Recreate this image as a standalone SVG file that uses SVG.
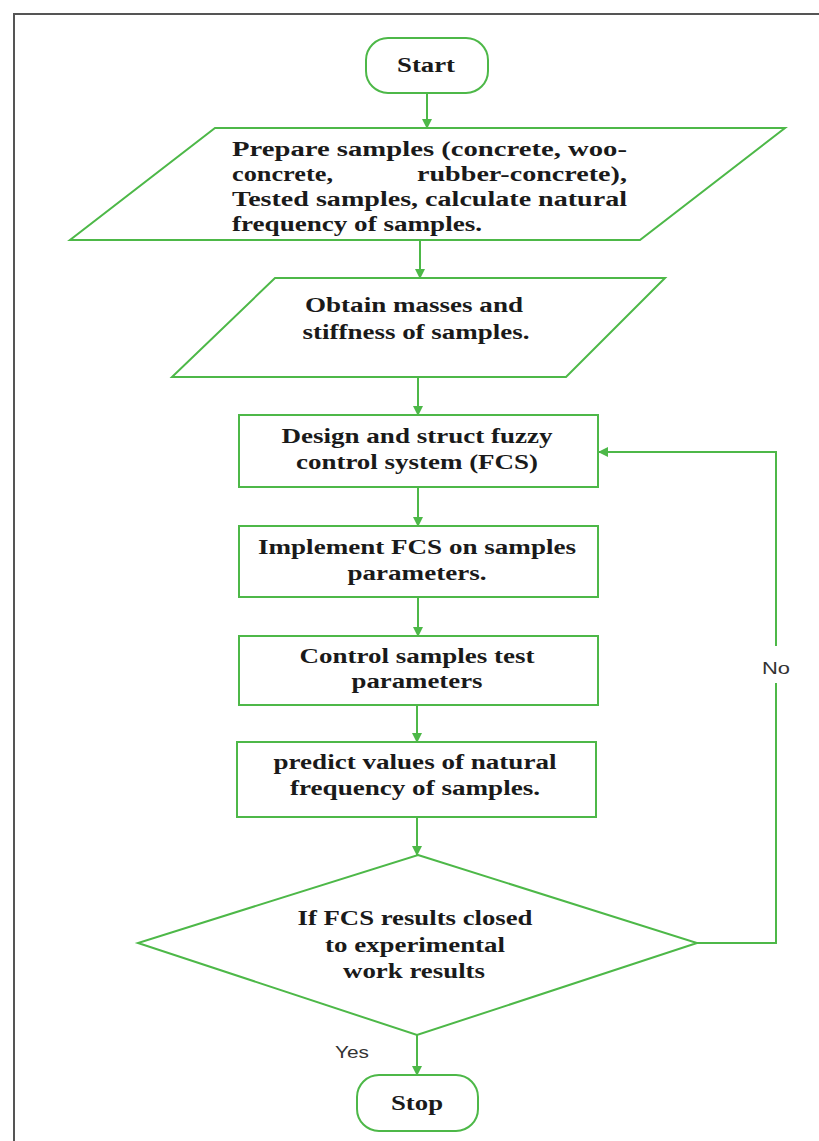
<svg xmlns="http://www.w3.org/2000/svg" width="819" height="1141" viewBox="0 0 819 1141">
<defs>
<marker id="ah" markerWidth="10" markerHeight="10" refX="9" refY="5" orient="auto" markerUnits="userSpaceOnUse">
<path d="M0,0 L10,5 L0,10 Z" fill="#4db848"/>
</marker>
<style>
.shape{fill:#ffffff;stroke:#4db848;stroke-width:2}
.t{font-family:"Liberation Serif","Times New Roman",serif;font-weight:bold;font-size:20px;fill:#1a1a1a;text-anchor:middle}
.tl{font-family:"Liberation Serif","Times New Roman",serif;font-weight:bold;font-size:20px;fill:#1a1a1a}
.lbl{font-family:"Liberation Sans",Arial,sans-serif;font-size:16px;fill:#333333;text-anchor:middle}
.c{fill:none;stroke:#4db848;stroke-width:2}
</style>
</defs>
<rect width="819" height="1141" fill="#ffffff"/>
<rect x="14" y="14" width="820" height="1140" fill="none" stroke="#555555" stroke-width="2"/>

<g id="connectors">
<line class="c" x1="427" y1="93" x2="427" y2="128" marker-end="url(#ah)"/>
<line class="c" x1="420" y1="240" x2="420" y2="278" marker-end="url(#ah)"/>
<line class="c" x1="418" y1="377" x2="418" y2="415" marker-end="url(#ah)"/>
<line class="c" x1="418" y1="487" x2="418" y2="526" marker-end="url(#ah)"/>
<line class="c" x1="418" y1="597" x2="418" y2="636" marker-end="url(#ah)"/>
<line class="c" x1="417" y1="705" x2="417" y2="742" marker-end="url(#ah)"/>
<line class="c" x1="417" y1="817" x2="417" y2="855" marker-end="url(#ah)"/>
<line class="c" x1="417" y1="1035" x2="417" y2="1075" marker-end="url(#ah)"/>
<polyline class="c" points="697,943 776,943 776,683"/>
<polyline class="c" points="776,646 776,452 599,452" marker-end="url(#ah)"/>
<text class="lbl" x="776" y="674" textLength="28" lengthAdjust="spacingAndGlyphs">No</text>
<text class="lbl" x="352" y="1058" textLength="34" lengthAdjust="spacingAndGlyphs">Yes</text>
</g>

<g id="start">
<rect class="shape" x="366" y="38" width="122" height="55" rx="22"/>
<text class="t" x="426" y="72" textLength="58" lengthAdjust="spacingAndGlyphs">Start</text>
</g>

<g id="prepare">
<polygon class="shape" points="215,128 785,128 640,240 70,240"/>
<text class="tl" x="232" y="156" textLength="395" lengthAdjust="spacingAndGlyphs">Prepare samples (concrete, woo-</text>
<text class="tl" x="232" y="181" textLength="101" lengthAdjust="spacingAndGlyphs">concrete,</text>
<text class="tl" x="417" y="181" textLength="210" lengthAdjust="spacingAndGlyphs">rubber-concrete),</text>
<text class="tl" x="232" y="206" textLength="395" lengthAdjust="spacingAndGlyphs">Tested samples, calculate natural</text>
<text class="tl" x="232" y="231" textLength="250" lengthAdjust="spacingAndGlyphs">frequency of samples.</text>
</g>

<g id="obtain">
<polygon class="shape" points="275,278 665,278 566,377 172,377"/>
<text class="t" x="414" y="312" textLength="218" lengthAdjust="spacingAndGlyphs">Obtain masses and</text>
<text class="t" x="416" y="339" textLength="227" lengthAdjust="spacingAndGlyphs">stiffness of samples.</text>
</g>

<g id="design">
<rect class="shape" x="239" y="415" width="359" height="72"/>
<text class="t" x="417" y="443" textLength="271" lengthAdjust="spacingAndGlyphs">Design and struct fuzzy</text>
<text class="t" x="417" y="469" textLength="242" lengthAdjust="spacingAndGlyphs">control system (FCS)</text>
</g>

<g id="implement">
<rect class="shape" x="239" y="526" width="359" height="71"/>
<text class="t" x="417" y="554" textLength="318" lengthAdjust="spacingAndGlyphs">Implement FCS on samples</text>
<text class="t" x="417" y="580" textLength="139" lengthAdjust="spacingAndGlyphs">parameters.</text>
</g>

<g id="control">
<rect class="shape" x="239" y="636" width="359" height="69"/>
<text class="t" x="417" y="663" textLength="235" lengthAdjust="spacingAndGlyphs">Control samples test</text>
<text class="t" x="417" y="688" textLength="131" lengthAdjust="spacingAndGlyphs">parameters</text>
</g>

<g id="predict">
<rect class="shape" x="237" y="742" width="359" height="75"/>
<text class="t" x="415" y="769" textLength="283" lengthAdjust="spacingAndGlyphs">predict values of natural</text>
<text class="t" x="415" y="795" textLength="250" lengthAdjust="spacingAndGlyphs">frequency of samples.</text>
</g>

<g id="decision">
<polygon class="shape" points="418,855 697,943 417,1035 138,943"/>
<text class="t" x="415" y="925" textLength="235" lengthAdjust="spacingAndGlyphs">If FCS results closed</text>
<text class="t" x="415" y="952" textLength="180" lengthAdjust="spacingAndGlyphs">to experimental</text>
<text class="t" x="414" y="978" textLength="142" lengthAdjust="spacingAndGlyphs">work results</text>
</g>

<g id="stop">
<rect class="shape" x="357" y="1075" width="121" height="56" rx="22"/>
<text class="t" x="417" y="1110" textLength="52" lengthAdjust="spacingAndGlyphs">Stop</text>
</g>
</svg>
